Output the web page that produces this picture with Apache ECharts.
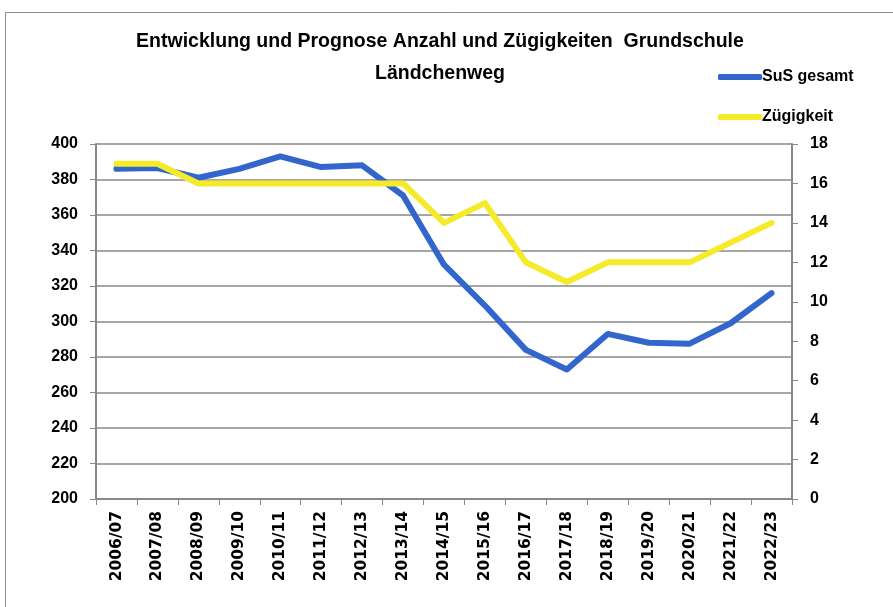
<!DOCTYPE html>
<html>
<head>
<meta charset="utf-8">
<script src="https://cdn.jsdelivr.net/npm/echarts@6/dist/echarts.min.js"></script>
<style>
  html, body { margin: 0; padding: 0; background: #fff; }
  #chart { width: 893px; height: 607px; }
</style>
</head>
<body>
<div id="chart"></div>
<script>
// Schuljahre
const years = ['2006/07', '2007/08', '2008/09', '2009/10', '2010/11', '2011/12', '2012/13', '2013/14', '2014/15',
  '2015/16', '2016/17', '2017/18', '2018/19', '2019/20', '2020/21', '2021/22', '2022/23']
// SuS gesamt (linke Achse)
const susGesamt = [386, 386.5, 381, 386, 393, 387, 388, 371, 332, 309, 284, 273, 293, 288, 287.5, 299, 316]
// Zügigkeit (rechte Achse)
const zuegigkeit = [17, 17, 16, 16, 16, 16, 16, 16, 14, 15, 12, 11, 12, 12, 12, 13, 14]

const labelFont = {color: '#000', fontWeight: 'bold', fontFamily: 'Liberation Sans', fontSize: 16}

let myChart = echarts.init(document.getElementById('chart'))
let option = {
  animation: false,
  title: {
    text: 'Entwicklung und Prognose Anzahl und Zügigkeiten  Grundschule\nLändchenweg',
    left: 435,
    textAlign: 'center',
    top: 21,
    textStyle: {fontSize: 19.5, fontWeight: 'bold', fontFamily: 'Liberation Sans', color: '#000', lineHeight: 32}
  },
  legend: {
    orient: 'vertical',
    left: 713,
    top: 64,
    itemGap: 24,
    itemWidth: 44,
    itemHeight: 6,
    icon: 'roundRect',
    textStyle: {fontSize: 16, fontWeight: 'bold', fontFamily: 'Liberation Sans', color: '#000', padding: [0, 0, 0, -5]},
    data: ['SuS gesamt', 'Zügigkeit']
  },
  graphic: [{
    type: 'rect',
    shape: {x: 5.5, y: 12.5, width: 900, height: 600},
    style: {fill: 'none', stroke: '#8c8c8c', lineWidth: 1},
    silent: true
  }],
  grid: {left: 96, right: 101, top: 144, bottom: 108},
  xAxis: {
    type: 'category',
    data: years,
    axisLine: {lineStyle: {color: '#888', width: 2}},
    axisTick: {show: true, length: 6, lineStyle: {color: '#888'}},
    axisLabel: {rotate: 90, interval: 0, color: '#000', fontWeight: 'bold', fontFamily: 'DejaVu Sans', fontSize: 15.5, margin: 12}
  },
  yAxis: [
    {
      type: 'value',
      min: 200,
      max: 400,
      interval: 20,
      axisLine: {show: true, lineStyle: {color: '#888', width: 2}},
      axisTick: {show: true, length: 6, lineStyle: {color: '#888'}},
      splitLine: {lineStyle: {color: '#a6a6a6', width: 2}},
      axisLabel: Object.assign({margin: 18}, labelFont)
    },
    {
      type: 'value',
      min: 0,
      max: 18,
      interval: 2,
      position: 'right',
      axisLine: {show: true, lineStyle: {color: '#888', width: 2}},
      axisTick: {show: true, length: 6, lineStyle: {color: '#888'}},
      splitLine: {show: false},
      axisLabel: Object.assign({margin: 18}, labelFont)
    }
  ],
  series: [
    {
      name: 'SuS gesamt',
      type: 'line',
      data: susGesamt,
      yAxisIndex: 0,
      symbol: 'none',
      itemStyle: {color: '#3366cc'},
      lineStyle: {color: '#3366cc', width: 6, cap: 'round', join: 'round'}
    },
    {
      name: 'Zügigkeit',
      type: 'line',
      data: zuegigkeit,
      yAxisIndex: 1,
      symbol: 'none',
      itemStyle: {color: '#f5eb2a'},
      lineStyle: {color: '#f5eb2a', width: 6, cap: 'round', join: 'round'}
    }
  ]
}
myChart.setOption(option)
</script>
</body>
</html>
